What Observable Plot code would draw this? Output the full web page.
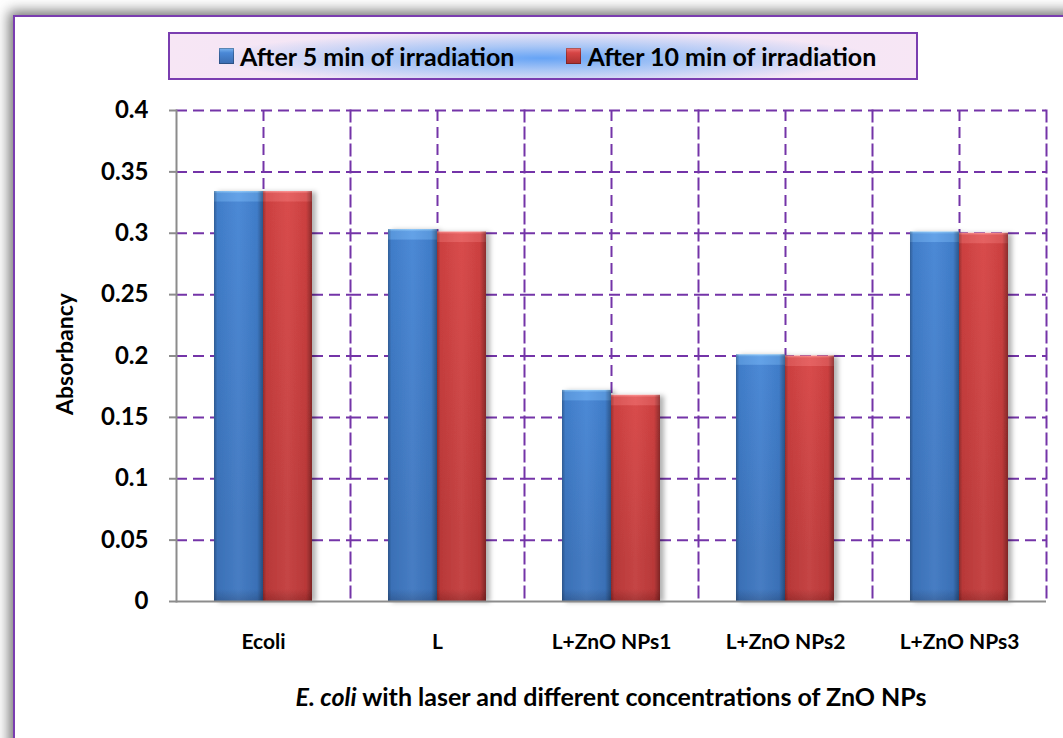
<!DOCTYPE html>
<html>
<head>
<meta charset="utf-8">
<script src="https://cdn.jsdelivr.net/npm/d3@7"></script>
<script src="https://cdn.jsdelivr.net/npm/@observablehq/plot@0.6"></script>
<style>
  body { margin: 0; width: 1063px; height: 738px; overflow: hidden; background: #fff; font-family: Lato, "Open Sans", sans-serif; }
  #card { position: absolute; left: 13px; top: 15px; width: 1100px; height: 800px; border: 2px solid #7a3db0;
          box-shadow: 0 0 12px 4px rgba(70,70,70,0.75); background: #fff; }
  #legend { position: absolute; left: 168px; top: 32px; width: 750px; height: 48px; border: 2px solid #7a3db0; box-sizing: border-box;
            background:
              radial-gradient(ellipse 45% 60% at 50% 55%, rgba(95,160,245,0.95) 0%, rgba(140,185,245,0.7) 45%, rgba(200,210,245,0) 100%),
              linear-gradient(to right, #f7e6f5, #efe6f6 50%, #f7e6f5);
            display: flex; align-items: center; padding-left: 49px; }
  .sw { display: inline-block; width: 15px; height: 16px; margin-right: 6px; flex: none; }
  .lt { font-weight: bold; font-size: 25px; color: #000; white-space: nowrap; }
  #chart { position: absolute; left: 0; top: 88px; }
  #ylabel { position: absolute; left: 64px; top: 354px; transform: translate(-50%, -50%) rotate(-90deg);
            font-weight: bold; font-size: 23px; white-space: nowrap; }
  #xtitle { position: absolute; left: 175px; width: 872px; top: 681px; text-align: center; font-weight: bold; font-size: 25px; white-space: nowrap; }
</style>
</head>
<body>
<div id="card"></div>
<div id="legend"></div>
<div id="chart"></div>
<div id="ylabel">Absorbancy</div>
<div id="xtitle"><i>E. coli</i> with laser and different concentrations of ZnO NPs</div>
<script>
// Absorbancy of E. coli samples after laser irradiation
const categories = ["Ecoli", "L", "L+ZnO NPs1", "L+ZnO NPs2", "L+ZnO NPs3"];
const seriesNames = ["After 5 min of irradiation", "After 10 min of irradiation"];
const after5min = [0.334, 0.303, 0.172, 0.201, 0.301];
const after10min = [0.334, 0.301, 0.168, 0.200, 0.300];
const yTicks = [0, 0.05, 0.1, 0.15, 0.2, 0.25, 0.3, 0.35, 0.4];
const seriesColors = ["#4383d3", "#d64343"];

const rows = [];
categories.forEach((c, i) => {
  rows.push({category: c, series: seriesNames[0], value: after5min[i], color: seriesColors[0]});
  rows.push({category: c, series: seriesNames[1], value: after10min[i], color: seriesColors[1]});
});

const purple = "#7434a8";
const dash = "11,6";

// Legend entries
const legend = document.getElementById("legend");
seriesNames.forEach((name, i) => {
  const sw = document.createElement("span");
  sw.className = "sw";
  sw.style.background = i === 0
    ? "linear-gradient(to bottom, #7fb8f2 0%, #4a88d6 30%, #3a6cb0 100%)"
    : "linear-gradient(to bottom, #f07a7a 0%, #d64545 30%, #a83030 100%)";
  sw.style.boxShadow = "inset 0 0 0 1px rgba(0,0,0,0.25)";
  const t = document.createElement("span");
  t.className = "lt";
  t.textContent = name;
  if (i === 1) { sw.style.marginLeft = "52px"; }
  legend.append(sw, t);
});

const plot = Plot.plot({
  width: 1063,
  height: 650,
  marginTop: 22,
  marginBottom: 137,
  marginLeft: 175,
  marginRight: 16,
  style: {fontFamily: "Lato, 'Open Sans', sans-serif", color: "#000", background: "transparent"},
  fx: {domain: categories, padding: 0},
  x: {domain: seriesNames, paddingInner: 0, paddingOuter: 0.744, axis: null},
  y: {domain: [0, 0.4]},
  marks: [
    Plot.gridY(yTicks.filter(d => d > 0), {stroke: purple, strokeOpacity: 1, strokeWidth: 2, strokeDasharray: dash}),
    Plot.gridFx({stroke: purple, strokeOpacity: 1, strokeWidth: 2, strokeDasharray: dash}),
    Plot.frame({anchor: "right", stroke: purple, strokeWidth: 2, strokeDasharray: dash}),
    Plot.barY(rows, {fx: "category", x: "series", y: "value", fill: "color"}),
    Plot.frame({anchor: "left", facetAnchor: "left", stroke: "#8c8c8c", strokeWidth: 2}),
    Plot.ruleY([0], {stroke: "#8c8c8c", strokeWidth: 2}),
    Plot.axisY({ticks: yTicks, tickFormat: d => String(d), tickSize: 7, tickPadding: 21, stroke: "#8c8c8c",
                strokeWidth: 2, fontSize: 24, fontWeight: "bold", label: null}),
    Plot.axisFx({anchor: "bottom", tickSize: 0, tickPadding: 33, fontSize: 21, fontWeight: "bold", label: null})
  ]
});
document.getElementById("chart").append(plot);

// Bevelled bar shading: per-bar vertical gradient plus a horizontal edge shade
const ns = "http://www.w3.org/2000/svg";
const defs = document.createElementNS(ns, "defs");
plot.insertBefore(defs, plot.firstChild);
const yS = plot.scale("y");
const y0 = yS.apply(0);
function grad(id, attrs, stops) {
  const g = document.createElementNS(ns, "linearGradient");
  g.setAttribute("id", id);
  Object.entries(attrs).forEach(([k, v]) => g.setAttribute(k, v));
  stops.forEach(([o, c, a]) => {
    const s = document.createElementNS(ns, "stop");
    s.setAttribute("offset", o);
    s.setAttribute("stop-color", c);
    if (a != null) s.setAttribute("stop-opacity", a);
    g.append(s);
  });
  defs.append(g);
}
grad("shadeH", {x1: 0, y1: 0, x2: 1, y2: 0}, [[0, "#000", 0.28], [0.07, "#000", 0.05], [0.5, "#fff", 0.05], [0.88, "#000", 0.05], [1, "#000", 0.35]]);
const filt = document.createElementNS(ns, "filter");
filt.setAttribute("id", "barShadow");
filt.setAttribute("x", "-20%"); filt.setAttribute("width", "150%");
filt.innerHTML = '<feDropShadow dx="4" dy="1" stdDeviation="2.5" flood-color="#000" flood-opacity="0.3"/>';
defs.append(filt);

const barGroup = plot.querySelector('g[aria-label="bar"]');
barGroup.setAttribute("filter", "url(#barShadow)");
barGroup.querySelectorAll("rect").forEach(rect => {
  const i = rect.__data__;
  const d = rows[i];
  const h = Math.max(1, y0 - yS.apply(d.value));
  const blue = d.series === seriesNames[0];
  const top = blue ? "#8cc8fa" : "#ff9090";
  const bevel = blue ? "#5c9de6" : "#e45a5a";
  const main = blue ? "#4383d3" : "#d64343";
  const low = blue ? "#3d76c0" : "#c23b3b";
  const bottom = blue ? "#3462a0" : "#a22e2e";
  const id = "barGrad" + i;
  grad(id, {x1: 0, y1: 0, x2: 0, y2: 1}, [
    [0, top], [2.5 / h, bevel], [10 / h, bevel], [11 / h, main], [0.8, low], [1 - 12 / h, low], [1, bottom]
  ]);
  rect.setAttribute("fill", `url(#${id})`);
  const shade = rect.cloneNode();
  shade.setAttribute("fill", "url(#shadeH)");
  rect.after(shade);
});
</script>
</body>
</html>
